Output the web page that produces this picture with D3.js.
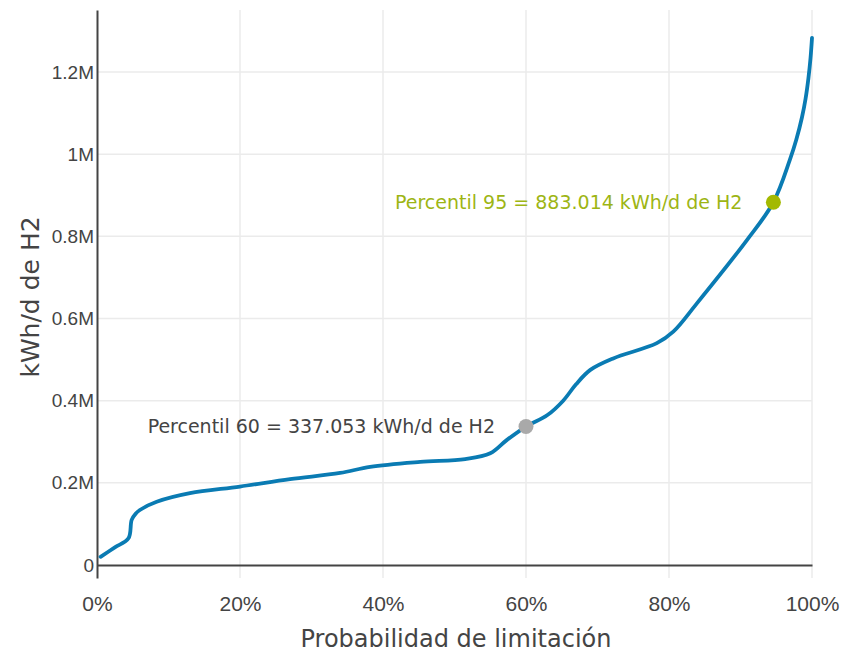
<!DOCTYPE html>
<html>
  <head>
    <meta charset="utf-8">
    <title>Probabilidad de limitación</title>
    <script src="https://cdn.jsdelivr.net/npm/d3@7"></script>
    <style>
      body { margin: 0; background: #fff; }
      #chart { display: block; font-family: "DejaVu Sans", Verdana, sans-serif; }
      .grid line { stroke: #ebebeb; stroke-width: 1.5; }
      .tick text { fill: #444; }
      .label { fill: #444; }
    </style>
  </head>
  <body>
    <svg id="chart" width="846" height="653">
      <g id="gridGroup"></g>
      <g id="xAxisGroup"></g>
      <g id="yAxisGroup"></g>
      <g id="chartGroup"></g>
      <g id="noteGroup"></g>
    </svg>
    <script>
      // data (probability %, kWh/d of H2 in millions)
      probabilidad = [0.5, 2.5, 4.4, 4.85, 5.4, 6.0, 8.35, 13, 20, 27, 34, 38.2, 45.2, 51.5, 55, 57.3, 60,
        63, 65.2, 67, 69, 72.2, 78.3, 80.6, 83.9, 90.9, 94.6, 96.9, 97.8, 98.6, 99.1, 99.5, 99.8, 100];
      energia = [0.020, 0.043, 0.065, 0.110, 0.125, 0.134, 0.154, 0.175, 0.191, 0.209, 0.224, 0.239, 0.251, 0.258, 0.272, 0.304, 0.337,
        0.365, 0.400, 0.440, 0.475, 0.503, 0.540, 0.568, 0.637, 0.791, 0.883, 0.986, 1.035, 1.090, 1.135, 1.185, 1.235, 1.283];
      percentiles = ["Percentil 60 = 337.053 kWh/d de H2", "Percentil 95 = 883.014 kWh/d de H2"];
      percentilX = [60, 94.6];
      percentilY = [0.337053, 0.883014];
      percentilColour = ["#a9a9a9", "#a3b900"];
      percentilText = ["#444", "#9db514"];
      xTicks = [0, 0.2, 0.4, 0.6, 0.8, 1];
      yTicks = [0, 0.2, 0.4, 0.6, 0.8, 1, 1.2];

      // name page elements
      chart = d3.select("#chart");
      chartGroup = d3.select("#chartGroup");
      gridGroup = d3.select("#gridGroup");
      xAxisGroup = d3.select("#xAxisGroup");
      yAxisGroup = d3.select("#yAxisGroup");
      noteGroup = d3.select("#noteGroup");

      margin = { top: 10, right: 34, bottom: 75, left: 97 };
      width = 846;
      height = 653;

      x = d3.scaleLinear()
        .domain([0, 1])
        .range([margin.left, width - margin.right]);
      y = d3.scaleLinear()
        .domain([-0.0316, 1.351])
        .range([height - margin.bottom, margin.top]);

      // grid
      gridGroup.append("g")
          .classed("grid", true)
        .selectAll("line")
          .data(xTicks.slice(1))
        .enter().append("line")
          .attr("x1", function(d) { return x(d); })
          .attr("x2", function(d) { return x(d); })
          .attr("y1", y.range()[0])
          .attr("y2", y.range()[1]);
      gridGroup.append("g")
          .classed("grid", true)
        .selectAll("line")
          .data(yTicks.slice(1))
        .enter().append("line")
          .attr("x1", x.range()[0])
          .attr("x2", x.range()[1])
          .attr("y1", function(d) { return y(d); })
          .attr("y2", function(d) { return y(d); });

      // axes
      xAxis = d3.axisBottom(x)
        .tickValues(xTicks)
        .tickSize(0)
        .tickFormat(d3.format(".0%"));
      xAxisGroup.attr("transform", "translate(0, " + y(0) + ")")
        .call(xAxis);
      xAxisGroup.select(".domain")
        .attr("stroke", "#444")
        .attr("stroke-width", 2);
      xAxisGroup.selectAll(".tick text")
        .style("font-size", "21px")
        .attr("dy", "0.35em")
        .attr("y", 39);

      yAxis = d3.axisLeft(y)
        .tickValues(yTicks)
        .tickSize(0)
        .tickPadding(3)
        .tickFormat(function(d) { return d === 0 ? "0" : d3.format("~g")(d) + "M"; });
      yAxisGroup.attr("transform", "translate(" + margin.left + ", 0)")
        .call(yAxis);
      yAxisGroup.select(".domain")
        .attr("stroke", "#444")
        .attr("stroke-width", 2);
      yAxisGroup.selectAll(".tick text")
        .style("font-size", "19px");

      chart.append("text")
        .classed("label", true)
        .attr("x", 456)
        .attr("y", 647)
        .attr("text-anchor", "middle")
        .style("font-size", "24px")
        .text("Probabilidad de limitación");
      chart.append("text")
        .classed("label", true)
        .attr("transform", "translate(39, 297) rotate(-90)")
        .attr("text-anchor", "middle")
        .style("font-size", "25px")
        .text("kWh/d de H2");

      // curve
      line = d3.line()
        .x(function(d, i) { return x(probabilidad[i] / 100); })
        .y(function(d) { return y(d); })
        .curve(d3.curveCatmullRom.alpha(0.5));
      chartGroup.append("path")
        .datum(energia)
        .attr("d", line)
        .attr("fill", "none")
        .attr("stroke", "#0a7bb3")
        .attr("stroke-width", 3.8)
        .attr("stroke-linecap", "round");

      // percentile markers
      notes = noteGroup.selectAll(".note")
          .data(percentiles)
        .enter().append("g")
          .classed("note", true);
      notes.append("circle")
        .attr("cx", function(d, i) { return x(percentilX[i] / 100); })
        .attr("cy", function(d, i) { return y(percentilY[i]); })
        .attr("r", 7.5)
        .attr("fill", function(d, i) { return percentilColour[i]; });
      notes.append("text")
        .attr("x", function(d, i) { return x(percentilX[i] / 100) - 31; })
        .attr("y", function(d, i) { return y(percentilY[i]); })
        .attr("dy", "0.35em")
        .attr("text-anchor", "end")
        .style("font-size", "19px")
        .attr("fill", function(d, i) { return percentilText[i]; })
        .text(function(d) { return d; });
    </script>
  </body>
</html>
